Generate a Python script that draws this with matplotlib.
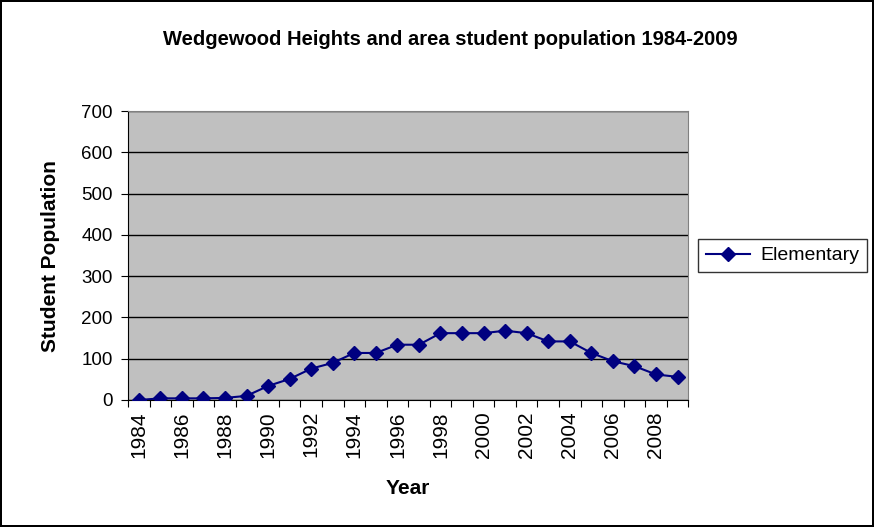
import numpy as np
import matplotlib.pyplot as plt

plt.rcParams['font.family'] = ['Liberation Sans', 'DejaVu Sans']

years = list(range(1984, 2010))
elementary = [0, 4, 4, 4, 5, 10, 34, 51, 76, 90, 114, 114, 134, 134, 162, 162, 162, 168,
              162, 142, 142, 114, 94, 82, 62, 56]
yticks = [0, 100, 200, 300, 400, 500, 600, 700]

fig = plt.figure(figsize=(8.74, 5.27), dpi=100)
fig.patch.set_facecolor('white')
fig.patch.set_edgecolor('black')
fig.patch.set_linewidth(1.5)

ax = fig.add_axes([0.1465, 0.241, 0.641, 0.548])
ax.set_facecolor('#c0c0c0')

x = np.arange(len(years))
ax.plot(x, elementary, color='#000080', linewidth=1.5, marker='D', markersize=7,
        label='Elementary', zorder=3)

ax.set_ylim(0, 700)
ax.set_yticks(yticks)
ax.set_yticklabels([str(v) for v in yticks], fontsize=13.5)
ax.grid(axis='y', color='black', linewidth=1.0)
ax.set_axisbelow(True)

ax.set_xlim(-0.5, len(years) - 0.5)
ax.set_xticks(np.arange(-0.5, len(years)))
ax.set_xticklabels([])
ax.set_xticks(x[::2], minor=True)
ax.set_xticklabels([str(y) for y in years[::2]], minor=True, rotation=90, fontsize=15)
ax.tick_params(axis='x', which='minor', length=0, pad=8)
ax.tick_params(axis='x', which='major', length=5, direction='out')
ax.tick_params(axis='y', length=5, direction='out', pad=6)

for s in ['top', 'right']:
    ax.spines[s].set_color('#808080')
for s in ['left', 'bottom']:
    ax.spines[s].set_color('black')

ax.set_xlabel('Year', fontsize=15, fontweight='bold')
ax.set_ylabel('Student Population', fontsize=15, fontweight='bold')
ax.xaxis.set_label_coords(0.5, -0.275)
ax.yaxis.set_label_coords(-0.122, 0.5)

fig.text(0.515, 0.925, 'Wedgewood Heights and area student population 1984-2009',
         ha='center', va='center', fontsize=14.5, fontweight='bold')

leg = fig.legend(loc='center left', bbox_to_anchor=(0.794, 0.515), fontsize=14,
                 frameon=True, fancybox=False, edgecolor='black', handlelength=2.3,
                 borderpad=0.4, handletextpad=0.5, borderaxespad=0.2)
leg.get_frame().set_linewidth(1.0)

fig.savefig('out.png', dpi=100)
